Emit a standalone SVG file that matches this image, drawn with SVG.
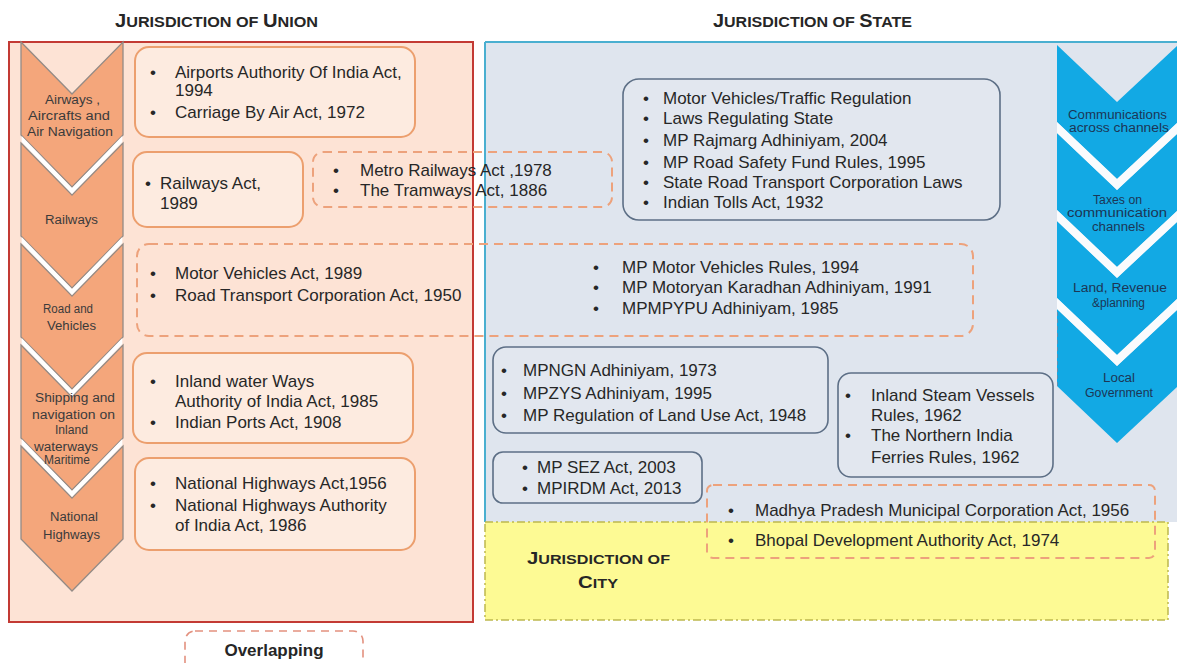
<svg xmlns="http://www.w3.org/2000/svg" width="1177" height="663" viewBox="0 0 1177 663">
  <defs>
    <style>
      text { font-family: "Liberation Sans", Arial, sans-serif; }
      .t { font-size: 17px; fill: #272727; }
      .ttl { font-weight: bold; fill: #262626; }
      .cl { font-size: 12.5px; fill: #3b3b3b; }
      .bl { font-size: 12.5px; fill: #1c3656; }
      .ubox { fill: #fdebe0; stroke: #ec9f6e; stroke-width: 2; }
      .sbox { fill: #e2e7ef; stroke: #5d6f86; stroke-width: 1.6; }
      .dash { fill: none; stroke: #eda27c; stroke-width: 2; stroke-dasharray: 9 6; }
      .uchev { fill: #f4a67b; stroke: #948b86; stroke-width: 1.3; }
      .bchev { fill: #12a9e4; }
      .gap { fill: #ffffff; }
    </style>
  </defs>

  <!-- panels -->
  <g id="union-panel">
    <rect x="9" y="42" width="464" height="580" fill="#fde3d5" stroke="#c33a34" stroke-width="2"/>
    <text class="ttl" x="115" y="27" textLength="203" lengthAdjust="spacingAndGlyphs"><tspan font-size="18">J</tspan><tspan font-size="14.5">URISDICTION OF </tspan><tspan font-size="18">U</tspan><tspan font-size="14.5">NION</tspan></text>
  </g>

  <g id="state-panel">
    <rect x="485" y="42" width="692" height="480" fill="#dfe5ee"/>
    <line x1="485" y1="42" x2="1177" y2="42" stroke="#4aafd0" stroke-width="2"/>
    <line x1="485" y1="42" x2="485" y2="522" stroke="#4aafd0" stroke-width="2"/>
    <text class="ttl" x="713" y="27" textLength="199" lengthAdjust="spacingAndGlyphs"><tspan font-size="18">J</tspan><tspan font-size="14.5">URISDICTION OF </tspan><tspan font-size="18">S</tspan><tspan font-size="14.5">TATE</tspan></text>
  </g>

  <g id="city-panel">
    <rect x="485" y="522" width="683" height="98" fill="#fdfa94" stroke="#bdb84e" stroke-width="1.5" stroke-dasharray="8 3 2 3"/>
    <text class="ttl" x="527" y="564" textLength="143" lengthAdjust="spacingAndGlyphs"><tspan font-size="17">J</tspan><tspan font-size="13.5">URISDICTION OF</tspan></text>
    <text class="ttl" x="578" y="588" textLength="40" lengthAdjust="spacingAndGlyphs"><tspan font-size="17">C</tspan><tspan font-size="13.5">ITY</tspan></text>
  </g>

  <!-- union subject chevrons -->
  <g id="union-chevrons">
    <path class="uchev" d="M21,42 L72,94 L123,42 L123,135 L72,187 L21,135 Z"/>
    <path class="uchev" d="M21,143 L72,195 L123,143 L123,236 L72,288 L21,236 Z"/>
    <path class="uchev" d="M21,244 L72,296 L123,244 L123,337 L72,389 L21,337 Z"/>
    <path class="uchev" d="M21,345 L72,397 L123,345 L123,438 L72,490 L21,438 Z"/>
    <path class="uchev" d="M21,446 L72,498 L123,446 L123,539 L72,591 L21,539 Z"/>
    <path class="gap" d="M21.7,136 L72,188 L122.3,136 L122.3,142 L72,194 L21.7,142 Z"/>
    <path class="gap" d="M21.7,237 L72,289 L122.3,237 L122.3,243 L72,295 L21.7,243 Z"/>
    <path class="gap" d="M21.7,338 L72,390 L122.3,338 L122.3,344 L72,396 L21.7,344 Z"/>
    <path class="gap" d="M21.7,439 L72,491 L122.3,439 L122.3,445 L72,497 L21.7,445 Z"/>
    <text class="cl" x="45" y="104" textLength="55" lengthAdjust="spacingAndGlyphs">Airways ,</text>
    <text class="cl" x="28" y="120" textLength="82" lengthAdjust="spacingAndGlyphs">Aircrafts and</text>
    <text class="cl" x="27" y="136" textLength="86" lengthAdjust="spacingAndGlyphs">Air Navigation</text>
    <text class="cl" x="45" y="224" textLength="53" lengthAdjust="spacingAndGlyphs">Railways</text>
    <text class="cl" x="43" y="313" textLength="50" lengthAdjust="spacingAndGlyphs">Road and</text>
    <text class="cl" x="47" y="330" textLength="49" lengthAdjust="spacingAndGlyphs">Vehicles</text>
    <text class="cl" x="35" y="402" textLength="80" lengthAdjust="spacingAndGlyphs">Shipping and</text>
    <text class="cl" x="32" y="419" textLength="83" lengthAdjust="spacingAndGlyphs">navigation on</text>
    <text class="cl" x="55" y="434" textLength="33" lengthAdjust="spacingAndGlyphs">Inland</text>
    <text class="cl" x="34" y="451" textLength="64" lengthAdjust="spacingAndGlyphs">waterways</text>
    <text class="cl" x="44" y="464" textLength="46" lengthAdjust="spacingAndGlyphs">Maritime</text>
    <text class="cl" x="50" y="521" textLength="48" lengthAdjust="spacingAndGlyphs">National</text>
    <text class="cl" x="43" y="539" textLength="57" lengthAdjust="spacingAndGlyphs">Highways</text>
  </g>

  <!-- state subject chevrons -->
  <g id="state-chevrons">
    <path class="bchev" d="M1057,45 L1117,102 L1178,45 L1178,122 L1117,179 L1057,122 Z"/>
    <path class="bchev" d="M1057,133 L1117,190 L1178,133 L1178,210 L1117,267 L1057,210 Z"/>
    <path class="bchev" d="M1057,221 L1117,278 L1178,221 L1178,298 L1117,355 L1057,298 Z"/>
    <path class="bchev" d="M1057,309 L1117,366 L1178,309 L1178,386 L1117,443 L1057,386 Z"/>
    <path class="gap" d="M1057,122 L1117,179 L1178,122 L1178,133 L1117,190 L1057,133 Z" fill-opacity="0.85"/>
    <path class="gap" d="M1057,210 L1117,267 L1178,210 L1178,221 L1117,278 L1057,221 Z" fill-opacity="0.85"/>
    <path class="gap" d="M1057,298 L1117,355 L1178,298 L1178,309 L1117,366 L1057,309 Z" fill-opacity="0.85"/>
    <line x1="1057.5" y1="312" x2="1057.5" y2="386" stroke="#5b8fb2" stroke-width="1" stroke-dasharray="4 3"/>
    <text class="bl" x="1068" y="119" textLength="99" lengthAdjust="spacingAndGlyphs">Communications</text>
    <text class="bl" x="1069" y="132" textLength="100" lengthAdjust="spacingAndGlyphs">across channels</text>
    <text class="bl" x="1093" y="204" textLength="49" lengthAdjust="spacingAndGlyphs">Taxes on</text>
    <text class="bl" x="1067" y="217" textLength="100" lengthAdjust="spacingAndGlyphs">communication</text>
    <text class="bl" x="1092" y="231" textLength="53" lengthAdjust="spacingAndGlyphs">channels</text>
    <text class="bl" x="1073" y="292" textLength="94" lengthAdjust="spacingAndGlyphs">Land, Revenue</text>
    <text class="bl" x="1092" y="307" textLength="53" lengthAdjust="spacingAndGlyphs">&amp;planning</text>
    <text class="bl" x="1103" y="382" textLength="32" lengthAdjust="spacingAndGlyphs">Local</text>
    <text class="bl" x="1085" y="397" textLength="68" lengthAdjust="spacingAndGlyphs">Government</text>
  </g>

  <!-- union acts -->
  <g id="airways-acts">
    <rect class="ubox" x="135" y="47" width="280" height="90" rx="14"/>
    <text class="t" x="150" y="78">•</text>
    <text class="t" x="175" y="78">Airports Authority Of India Act,</text>
    <text class="t" x="175" y="96">1994</text>
    <text class="t" x="150" y="118">•</text>
    <text class="t" x="175" y="118">Carriage By Air Act, 1972</text>
  </g>

  <g id="railways-acts">
    <rect class="ubox" x="133" y="152" width="170" height="75" rx="14"/>
    <text class="t" x="145" y="189">•</text>
    <text class="t" x="160" y="189">Railways Act,</text>
    <text class="t" x="160" y="209">1989</text>
  </g>

  <g id="metro-acts">
    <rect class="dash" x="313" y="152" width="299" height="55" rx="10"/>
    <text class="t" x="333" y="176">•</text>
    <text class="t" x="360" y="176">Metro Railways Act ,1978</text>
    <text class="t" x="333" y="196">•</text>
    <text class="t" x="360" y="196">The Tramways Act, 1886</text>
  </g>

  <g id="road-acts">
    <rect class="dash" x="137" y="244" width="836" height="92" rx="12"/>
    <text class="t" x="150" y="279">•</text>
    <text class="t" x="175" y="279">Motor Vehicles Act, 1989</text>
    <text class="t" x="150" y="301">•</text>
    <text class="t" x="175" y="301">Road Transport Corporation Act, 1950</text>
    <text class="t" x="593" y="273">•</text>
    <text class="t" x="622" y="273">MP Motor Vehicles Rules, 1994</text>
    <text class="t" x="593" y="293">•</text>
    <text class="t" x="622" y="293">MP Motoryan Karadhan Adhiniyam, 1991</text>
    <text class="t" x="593" y="314">•</text>
    <text class="t" x="622" y="314">MPMPYPU Adhiniyam, 1985</text>
  </g>

  <g id="shipping-acts">
    <rect class="ubox" x="133" y="353" width="280" height="90" rx="14"/>
    <text class="t" x="150" y="387">•</text>
    <text class="t" x="175" y="387">Inland water Ways</text>
    <text class="t" x="175" y="407">Authority of India Act, 1985</text>
    <text class="t" x="150" y="428">•</text>
    <text class="t" x="175" y="428">Indian Ports Act, 1908</text>
  </g>

  <g id="highways-acts">
    <rect class="ubox" x="135" y="458" width="280" height="92" rx="14"/>
    <text class="t" x="150" y="489">•</text>
    <text class="t" x="175" y="489">National Highways Act,1956</text>
    <text class="t" x="150" y="511">•</text>
    <text class="t" x="175" y="511">National Highways Authority</text>
    <text class="t" x="175" y="531">of India Act, 1986</text>
  </g>

  <!-- state acts -->
  <g id="traffic-acts">
    <rect class="sbox" x="623" y="79" width="377" height="141" rx="16"/>
    <text class="t" x="643" y="104">•</text>
    <text class="t" x="663" y="104">Motor Vehicles/Traffic Regulation</text>
    <text class="t" x="643" y="124">•</text>
    <text class="t" x="663" y="124">Laws Regulating State</text>
    <text class="t" x="643" y="146">•</text>
    <text class="t" x="663" y="146">MP Rajmarg Adhiniyam, 2004</text>
    <text class="t" x="643" y="168">•</text>
    <text class="t" x="663" y="168">MP Road Safety Fund Rules, 1995</text>
    <text class="t" x="643" y="188">•</text>
    <text class="t" x="663" y="188">State Road Transport Corporation Laws</text>
    <text class="t" x="643" y="208">•</text>
    <text class="t" x="663" y="208">Indian Tolls Act, 1932</text>
  </g>

  <g id="planning-acts">
    <rect class="sbox" x="493" y="347" width="335" height="86" rx="13"/>
    <text class="t" x="501" y="376">•</text>
    <text class="t" x="523" y="376">MPNGN Adhiniyam, 1973</text>
    <text class="t" x="501" y="399">•</text>
    <text class="t" x="523" y="399">MPZYS Adhiniyam, 1995</text>
    <text class="t" x="501" y="421">•</text>
    <text class="t" x="523" y="421">MP Regulation of Land Use Act, 1948</text>
  </g>

  <g id="vessel-acts">
    <rect class="sbox" x="838" y="373" width="215" height="104" rx="13"/>
    <text class="t" x="845" y="401">•</text>
    <text class="t" x="871" y="401">Inland Steam Vessels</text>
    <text class="t" x="871" y="421">Rules, 1962</text>
    <text class="t" x="845" y="441">•</text>
    <text class="t" x="871" y="441">The Northern India</text>
    <text class="t" x="871" y="463">Ferries Rules, 1962</text>
  </g>

  <g id="sez-acts">
    <rect class="sbox" x="493" y="452" width="209" height="51" rx="10"/>
    <text class="t" x="522" y="473">•</text>
    <text class="t" x="537" y="473">MP SEZ Act, 2003</text>
    <text class="t" x="522" y="494">•</text>
    <text class="t" x="537" y="494">MPIRDM Act, 2013</text>
  </g>

  <!-- city acts -->
  <g id="municipal-acts">
    <rect class="dash" x="707" y="485" width="448" height="73" rx="6" stroke="#e39d76"/>
    <text class="t" x="728" y="516">•</text>
    <text class="t" x="755" y="516">Madhya Pradesh Municipal Corporation Act, 1956</text>
    <text class="t" x="728" y="546">•</text>
    <text class="t" x="755" y="546">Bhopal Development Authority Act, 1974</text>
  </g>

  <!-- legend -->
  <g id="overlapping-legend">
    <rect x="185" y="631" width="178" height="60" rx="10" fill="none" stroke="#e3917f" stroke-width="1.6" stroke-dasharray="8 6"/>
    <text class="ttl" x="274" y="656" font-size="17" text-anchor="middle">Overlapping</text>
  </g>
</svg>
